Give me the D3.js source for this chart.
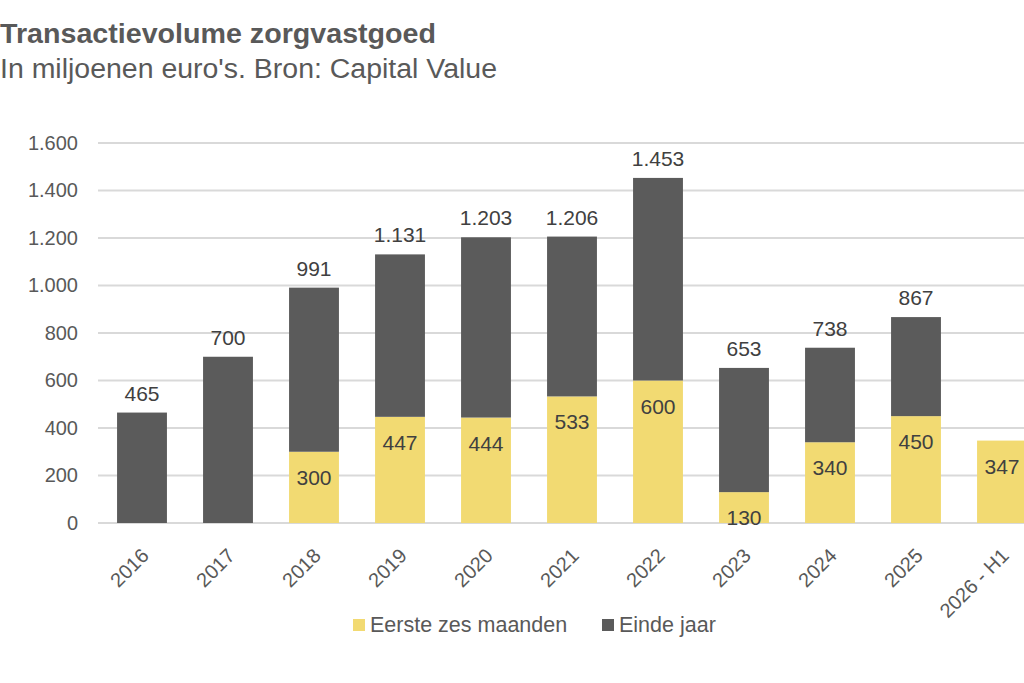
<!DOCTYPE html>
<html>
<head>
<meta charset="utf-8">
<style>
    body { margin: 0; background: #fff; }
    svg { display: block; font-family: "Liberation Sans", Arial, sans-serif; }
</style>
</head>
<body>
<svg id="chart" width="1024" height="683"></svg>
<script src="https://cdn.jsdelivr.net/npm/d3@7"></script>
<script>
    // data
    const years = ["2016", "2017", "2018", "2019", "2020", "2021", "2022", "2023", "2024", "2025", "2026 - H1"];
    const firstHalf = [0, 0, 300, 447, 444, 533, 600, 130, 340, 450, 347];
    const totals = [465, 700, 991, 1131, 1203, 1206, 1453, 653, 738, 867, null];
    const yTicks = [0, 200, 400, 600, 800, 1000, 1200, 1400, 1600];
    const seriesNames = ["Eerste zes maanden", "Einde jaar"];

    const yellow = "#f2da72";
    const dark = "#5b5b5b";
    const textColor = "#404040";

    const nl = d3.formatLocale({ decimal: ",", thousands: ".", grouping: [3], currency: ["€", ""] });
    const fmt = nl.format(",d");

    const svg = d3.select("#chart");

    // title
    svg.append("text").attr("x", 0).attr("y", 43)
        .attr("font-size", 28).attr("font-weight", "bold").attr("fill", "#595959")
        .attr("textLength", 436).attr("lengthAdjust", "spacingAndGlyphs")
        .text("Transactievolume zorgvastgoed");
    svg.append("text").attr("x", 0).attr("y", 78)
        .attr("font-size", 27).attr("fill", "#595959")
        .attr("textLength", 497).attr("lengthAdjust", "spacingAndGlyphs")
        .text("In miljoenen euro's. Bron: Capital Value");

    const x = d3.scaleBand()
        .domain(years)
        .range([99, 1045])
        .paddingInner(0.42)
        .paddingOuter(0.21);

    const y = d3.scaleLinear()
        .domain([0, 1600])
        .range([523, 143]);

    // gridlines
    svg.append("g").selectAll("line").data(yTicks)
        .enter().append("line")
        .attr("x1", 98).attr("x2", 1024)
        .attr("y1", (d) => y(d)).attr("y2", (d) => y(d))
        .attr("stroke", "#d9d9d9").attr("stroke-width", 2);

    // y axis labels
    const yAxis = d3.axisLeft(y).tickValues(yTicks).tickFormat(fmt).tickSize(0).tickPadding(0);
    const gy = svg.append("g").attr("transform", "translate(78,0)").call(yAxis);
    gy.select(".domain").remove();
    gy.selectAll("text")
        .attr("font-size", 20).attr("fill", "#595959")
        .attr("font-family", "Liberation Sans, Arial, sans-serif");

    const rows = years.map((yr, i) => ({
        year: yr,
        first: firstHalf[i],
        rest: totals[i] == null ? 0 : totals[i] - firstHalf[i],
        total: totals[i]
    }));
    const stack = d3.stack().keys(["first", "rest"])(rows);
    const colors = [yellow, dark];

    svg.append("g").selectAll("g").data(stack)
        .enter().append("g")
        .attr("fill", (d, i) => colors[i])
        .selectAll("rect").data((d) => d)
        .enter().append("rect")
        .attr("x", (d) => x(d.data.year))
        .attr("width", x.bandwidth())
        .attr("y", (d) => y(d[1]))
        .attr("height", (d) => y(d[0]) - y(d[1]));

    // labels inside yellow part
    svg.append("g").selectAll("text").data(rows.filter((r) => r.first > 0))
        .enter().append("text")
        .attr("x", (d) => x(d.year) + x.bandwidth() / 2)
        .attr("y", (d) => y(d.first) + 33)
        .attr("text-anchor", "middle")
        .attr("font-size", 21).attr("fill", textColor)
        .text((d) => fmt(d.first));

    // total labels above bars
    svg.append("g").selectAll("text").data(rows.filter((r) => r.total != null))
        .enter().append("text")
        .attr("x", (d) => x(d.year) + x.bandwidth() / 2)
        .attr("y", (d) => y(d.total) - 12)
        .attr("text-anchor", "middle")
        .attr("font-size", 21).attr("fill", textColor)
        .text((d) => fmt(d.total));

    // x axis labels rotated
    const xAxis = d3.axisBottom(x).tickSize(0).tickPadding(0);
    const gx = svg.append("g").attr("transform", "translate(0,523)").call(xAxis);
    gx.select(".domain").remove();
    gx.selectAll("text")
        .attr("font-size", 20).attr("fill", "#595959")
        .attr("font-family", "Liberation Sans, Arial, sans-serif")
        .attr("text-anchor", "end")
        .attr("dy", null)
        .attr("transform", "translate(8,34) rotate(-45)");

    // legend
    const legendX = [353, 602];
    const legend = svg.append("g").selectAll("g").data(seriesNames)
        .enter().append("g")
        .attr("transform", (d, i) => `translate(${legendX[i]},619)`);
    legend.append("rect").attr("width", 12).attr("height", 12)
        .attr("fill", (d, i) => colors[i]);
    legend.append("text").attr("x", 17).attr("y", 13)
        .attr("font-size", 21.5).attr("fill", "#595959")
        .text((d) => d);
</script>
</body>
</html>
